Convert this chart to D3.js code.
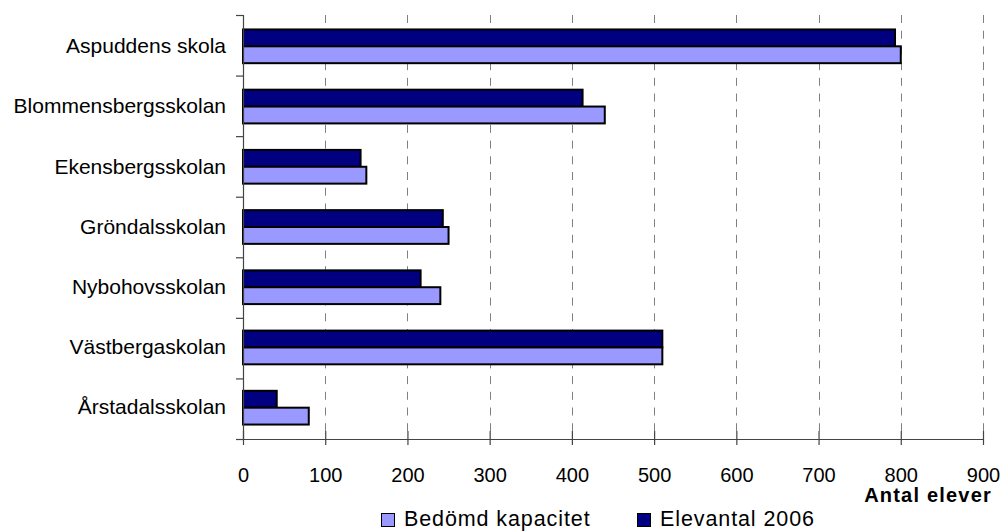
<!DOCTYPE html>
<html><head><meta charset="utf-8">
<script src="https://cdn.jsdelivr.net/npm/d3@7"></script>
<style>
html,body{margin:0;padding:0;background:#fff;}
svg{display:block;font-family:"Liberation Sans",Arial,sans-serif;}
</style></head>
<body>
<svg id="chart" width="1003" height="531"></svg>
<script>
const categories = ["Aspuddens skola","Blommensbergsskolan","Ekensbergsskolan","Gröndalsskolan","Nybohovsskolan","Västbergaskolan","Årstadalsskolan"];
const elevantal2006 = [793, 413, 143, 243, 216, 510, 41];
const bedomdKapacitet = [800, 440, 150, 250, 240, 510, 80];
const xTicks = [0,100,200,300,400,500,600,700,800,900];
const seriesNames = ["Elevantal 2006","Bedömd kapacitet"];
const legendOrder = ["Bedömd kapacitet","Elevantal 2006"];
const colors = {"Elevantal 2006":"#000080","Bedömd kapacitet":"#9999FF"};
const xTitle = "Antal elever";

const seriesValues = {"Elevantal 2006": elevantal2006, "Bedömd kapacitet": bedomdKapacitet};

const svg = d3.select("#chart");
const x0 = 243, x1 = 983, y0 = 15, y1 = 439;

const x = d3.scaleLinear().domain([0,900]).range([x0,x1]);
const y = d3.scaleBand().domain(categories).range([y0,y1]).paddingInner(0.44).paddingOuter(0.24);
const yIdx = d3.scaleLinear().domain([0,categories.length]).range([y0,y1]);
const ys = d3.scaleBand().domain(seriesNames).range([0,y.bandwidth()]);

// gridlines
svg.append("g").selectAll("line").data(xTicks.filter(d=>d>0)).join("line")
  .attr("x1",d=>Math.round(x(d))+0.5).attr("x2",d=>Math.round(x(d))+0.5)
  .attr("y1",y0).attr("y2",y1)
  .attr("stroke","#808080").attr("stroke-width",1).attr("stroke-dasharray","8,7.7");

// bars
const g = svg.append("g");
categories.forEach((c,i)=>{
  seriesNames.forEach(s=>{
    g.append("rect")
      .attr("x",x(0))
      .attr("y",y(c)+ys(s))
      .attr("width",x(seriesValues[s][i])-x(0))
      .attr("height",ys.bandwidth())
      .attr("fill",colors[s])
      .attr("stroke","#000").attr("stroke-width",2);
  });
});

// left axis ticks (category boundaries)
const la = svg.append("g").attr("transform",`translate(${x0},0)`)
  .call(d3.axisLeft(yIdx).tickValues(d3.range(categories.length+1)).tickFormat("").tickSize(7));
la.selectAll("path,line").attr("stroke","#444").attr("stroke-width",1.2);

// category labels
const cl = svg.append("g").attr("transform",`translate(${x0},0)`)
  .call(d3.axisLeft(y).tickSize(0).tickPadding(17));
cl.select(".domain").remove();
cl.selectAll("text").attr("font-size","21px").attr("fill","#000")
  .attr("font-family","Liberation Sans, Arial, sans-serif");

// bottom axis
const ba = svg.append("g").attr("transform",`translate(0,${y1})`)
  .call(d3.axisBottom(x).tickValues(xTicks).tickSize(6).tickPadding(23).tickSizeOuter(0));
ba.selectAll(".tick line").attr("y1",-8).attr("y2",6);
ba.selectAll("path,line").attr("stroke","#444").attr("stroke-width",1.2);
ba.selectAll("text").attr("font-size","20px").attr("fill","#000")
  .attr("font-family","Liberation Sans, Arial, sans-serif");

// axis title
svg.append("text").attr("x",992).attr("y",502).attr("text-anchor","end")
  .attr("font-size","20px").attr("font-weight","bold").attr("letter-spacing","1.2px")
  .text(xTitle);

// legend
const legX = [381, 637];
legendOrder.forEach((s,i)=>{
  const lg = svg.append("g").attr("transform",`translate(${legX[i]},513)`);
  lg.append("rect").attr("x",0.5).attr("y",0.5).attr("width",13).attr("height",13)
    .attr("fill",colors[s]).attr("stroke","#000").attr("stroke-width",1);
  lg.append("text").attr("x",23).attr("y",13).attr("font-size","21.5px")
    .attr("letter-spacing","0.9px").text(s);
});
</script>
</body></html>
